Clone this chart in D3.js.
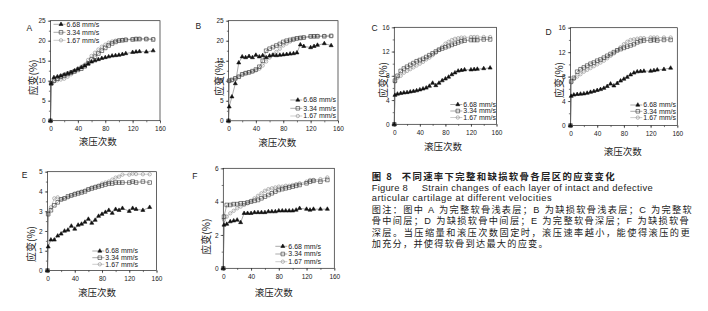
<!DOCTYPE html>
<html>
<head>
<meta charset="utf-8">
<script src="https://cdn.jsdelivr.net/npm/d3@7"></script>
<style>
body { margin: 0; background: #fff; }
svg text { font-family: "Liberation Sans", Arial, sans-serif; fill: #222; }
svg .cn { font-family: "Noto Sans CJK SC", sans-serif; }
svg .mix { font-family: "Liberation Sans", "Noto Sans CJK SC", sans-serif; }
</style>
</head>
<body>
<div id="chart"></div>
<script>
// Data (strain %)
const cycles = [0, 1, 5, 10, 15, 20, 25, 30, 35, 40, 45, 50, 55, 60, 65, 70, 75, 80, 85, 90, 95, 100, 105, 110, 120, 125, 130, 140, 150];
const speeds = ["6.68 mm/s", "3.34 mm/s", "1.67 mm/s"];
const xTicks = [0, 40, 80, 120, 160];

const strainA668 = [0, 9.3, 10.8, 11.0, 11.2, 11.5, 11.8, 12.1, 12.5, 12.9, 13.3, 13.7, 14.2, 14.7, 15.0, 15.3, 15.6, 15.8, 16.0, 16.2, 16.3, 16.4, 16.6, 16.8, 17.1, 17.2, 17.3, 17.2, 17.5];
const strainA334 = [0, 9.3, 10.0, 10.5, 11.0, 11.3, 11.7, 12.0, 12.3, 12.7, 13.0, 13.6, 14.3, 15.3, 16.0, 16.8, 17.5, 18.2, 18.8, 19.3, 19.7, 20.0, 20.1, 20.2, 20.3, 20.4, 20.4, 20.4, 20.3];
const strainA167 = [0, 9.3, 9.8, 10.1, 10.3, 10.5, 11.0, 11.6, 12.3, 13.0, 13.5, 14.0, 15.2, 16.2, 17.0, 17.8, 18.5, 19.0, 19.5, 19.8, 20.0, 20.1, 20.2, 20.3, 20.4, 20.5, 20.5, 20.5, 20.4];

const strainB668 = [0, 3.5, 6.0, 9.3, 14.5, 16.0, 15.8, 16.1, 15.8, 16.4, 16.0, 16.3, 15.8, 16.2, 16.4, 16.3, 16.4, 16.5, 16.6, 16.7, 16.8, 17.0, 19.0, 18.6, 18.3, 18.6, 18.9, 19.3, 18.8];
const strainB334 = [0, 10.0, 10.2, 10.6, 11.0, 11.6, 11.9, 12.1, 12.4, 12.8, 13.5, 15.0, 17.5, 18.0, 18.4, 18.8, 19.2, 19.7, 20.0, 20.2, 20.4, 20.6, 20.7, 20.8, 21.1, 21.1, 21.1, 21.1, 21.2];
const strainB167 = [0, 10.0, 10.2, 10.6, 11.0, 11.6, 11.9, 12.1, 12.3, 12.6, 13.0, 13.8, 14.8, 15.8, 16.5, 17.2, 18.0, 18.8, 19.3, 19.8, 20.2, 20.5, 20.7, 20.8, 21.0, 21.1, 21.2, 21.2, 21.2];

const strainC668 = [0, 4.8, 5.0, 5.1, 5.2, 5.25, 5.35, 5.45, 5.55, 5.7, 5.85, 6.0, 6.3, 6.8, 6.4, 6.8, 7.2, 7.5, 7.8, 8.2, 8.5, 8.8, 8.9, 9.0, 9.0, 9.05, 9.1, 9.2, 9.3];
const strainC334 = [0, 7.2, 8.0, 8.8, 9.2, 9.5, 9.8, 10.1, 10.4, 10.6, 10.8, 11.1, 11.4, 11.7, 12.0, 12.3, 12.5, 12.7, 12.9, 13.1, 13.3, 13.5, 13.7, 13.8, 13.9, 13.9, 13.9, 14.0, 14.0];
const strainC167 = [0, 7.0, 7.7, 8.0, 8.5, 8.8, 9.1, 9.4, 9.7, 10.0, 10.3, 10.7, 11.0, 11.4, 11.8, 12.3, 12.8, 13.3, 13.6, 13.9, 14.1, 14.2, 14.3, 14.3, 14.4, 14.4, 14.4, 14.4, 14.4];

const strainD668 = [0, 4.8, 5.0, 5.1, 5.15, 5.2, 5.3, 5.45, 5.6, 5.75, 5.9, 6.1, 6.4, 6.8, 6.5, 6.9, 7.3, 7.6, 7.9, 8.3, 8.6, 8.8, 8.85, 8.9, 8.9, 9.0, 9.1, 9.2, 9.4];
const strainD334 = [0, 7.2, 7.8, 8.8, 9.2, 9.5, 9.8, 10.1, 10.3, 10.6, 10.8, 11.1, 11.4, 11.7, 12.0, 12.3, 12.5, 12.7, 12.9, 13.1, 13.3, 13.6, 13.8, 13.9, 13.9, 14.0, 13.9, 14.0, 14.0];
const strainD167 = [0, 7.0, 7.6, 8.0, 8.4, 8.8, 9.1, 9.4, 9.7, 10.0, 10.3, 10.6, 11.0, 11.4, 11.8, 12.3, 12.8, 13.3, 13.7, 14.0, 14.1, 14.2, 14.3, 14.3, 14.4, 14.4, 14.4, 14.4, 14.4];

const strainE668 = [0, 1.2, 1.55, 1.55, 1.75, 1.85, 2.0, 2.05, 2.25, 2.1, 2.3, 2.35, 2.45, 2.6, 2.4, 2.55, 2.75, 2.85, 2.95, 3.05, 2.9, 3.1, 3.05, 3.15, 3.0, 3.15, 3.1, 3.05, 3.2];
const strainE334 = [0, 2.85, 3.05, 3.3, 3.45, 3.6, 3.65, 3.75, 3.8, 3.85, 3.9, 3.95, 4.0, 4.1, 4.15, 4.2, 4.25, 4.3, 4.35, 4.4, 4.4, 4.45, 4.45, 4.45, 4.45, 4.5, 4.45, 4.5, 4.45];
const strainE167 = [0, 2.9, 3.2, 3.65, 3.7, 3.6, 3.65, 3.7, 3.8, 3.9, 3.95, 4.0, 4.05, 4.1, 4.2, 4.25, 4.3, 4.4, 4.45, 4.5, 4.6, 4.7, 4.75, 4.85, 4.85, 4.9, 4.88, 4.87, 4.87];

const strainF668 = [0, 2.6, 2.65, 2.8, 2.85, 2.9, 2.75, 3.3, 3.3, 3.3, 3.35, 3.35, 3.35, 3.35, 3.4, 3.4, 3.4, 3.45, 3.45, 3.45, 3.45, 3.45, 3.5, 3.6, 3.55, 3.5, 3.55, 3.55, 3.55];
const strainF334 = [0, 3.1, 3.8, 3.8, 3.85, 3.85, 3.9, 3.9, 3.95, 4.0, 4.05, 4.1, 4.2, 4.3, 4.4, 4.5, 4.6, 4.7, 4.75, 4.8, 4.85, 4.9, 4.95, 5.0, 5.1, 5.2, 5.25, 5.2, 5.3];
const strainF167 = [0, 2.9, 3.1, 3.3, 3.45, 3.6, 3.7, 3.8, 3.9, 4.05, 4.2, 4.35, 4.5, 4.65, 4.75, 4.8, 4.85, 4.9, 4.9, 4.95, 4.95, 5.0, 5.05, 5.1, 5.2, 5.3, 5.3, 5.35, 5.45];

const yTicksA = [0, 5, 10, 15, 20, 25];
const yTicksC = [0, 4, 8, 12, 16];
const yTicksE = [0, 1, 2, 3, 4, 5];
const yTicksF = [0, 2, 4, 6];

const captionLines = [
    "图 8", "不同速率下完整和缺损软骨各层区的应变变化",
    "Figure 8", "Strain changes of each layer of intact and defective",
    "articular cartilage at different velocities",
    "图注：图中 A 为完整软骨浅表层；B 为缺损软骨浅表层；C 为完整软",
    "骨中间层；D 为缺损软骨中间层；E 为完整软骨深层；F 为缺损软骨",
    "深层。当压缩量和滚压次数固定时，滚压速率越小，能使得滚压的更",
    "加充分，并使得软骨到达最大的应变。"
];

// Panel layout (pixel boxes)
const panels = [
    { letter: "A", box: [50.5, 160, 20.7, 120.7], yTicks: yTicksA, series: [strainA668, strainA334, strainA167],
      letterPos: [26.5, 31], yTitle: [33.5, 77.5], xTitle: [97.7, 145], legend: { x: 66.5, rows: [24.3, 32.3, 40.3], anchor: "start" } },
    { letter: "B", box: [228.5, 338, 20.7, 120.8], yTicks: yTicksA, series: [strainB668, strainB334, strainB167],
      letterPos: [195.5, 28.5], yTitle: [219.5, 78], xTitle: [277.3, 146], legend: { x: 336, rows: [100, 108.3, 116], anchor: "end" } },
    { letter: "C", box: [394.3, 496.5, 27.3, 124.3], yTicks: yTicksC, series: [strainC668, strainC334, strainC167],
      letterPos: [371.5, 30.5], yTitle: [383.5, 80], xTitle: [443, 150], legend: { x: 496, rows: [104.5, 111, 117.5], anchor: "end" } },
    { letter: "D", box: [570.5, 677.3, 27.7, 125.5], yTicks: yTicksC, series: [strainD668, strainD334, strainD167],
      letterPos: [545.5, 34.5], yTitle: [559.5, 80], xTitle: [622.7, 155], legend: { x: 676, rows: [105, 111.3, 117.6], anchor: "end" } },
    { letter: "E", box: [47.5, 156.5, 171.7, 270.5], yTicks: yTicksE, series: [strainE668, strainE334, strainE167],
      letterPos: [21.7, 178], yTitle: [31.7, 244], xTitle: [97, 295.5], legend: { x: 138, rows: [251, 257.7, 264.3], anchor: "end" } },
    { letter: "F", box: [223.3, 334.3, 168.3, 268.3], yTicks: yTicksF, series: [strainF668, strainF334, strainF167],
      letterPos: [192.3, 178.5], yTitle: [206.7, 236.7], xTitle: [273.7, 295.5], legend: { x: 321, rows: [246.3, 254, 261.7], anchor: "end" } }
];

// Marker styles: triangle / square / circle
const seriesStyle = [
    { symbol: d3.symbolTriangle, size: 7, fill: "#111", stroke: "#111", line: "#555" },
    { symbol: d3.symbolSquare, size: 13, fill: "none", stroke: "#333", line: "#555" },
    { symbol: d3.symbolCircle, size: 9, fill: "none", stroke: "#8c8c8c", line: "#9a9a9a" }
];

const svg = d3.select("#chart")
    .append("svg")
    .attr("width", 708)
    .attr("height", 311);

panels.forEach(p => {
    const [x0, x1, y0, y1] = p.box;
    const yMax = p.yTicks[p.yTicks.length - 1];
    const yStep = p.yTicks[1] - p.yTicks[0];

    const xScale = d3.scaleLinear().domain([0, 160]).range([x0, x1]);
    const yScale = d3.scaleLinear().domain([0, yMax]).range([y1, y0]);

    const g = svg.append("g");

    // Frame
    g.append("rect")
        .attr("x", x0).attr("y", y0)
        .attr("width", x1 - x0).attr("height", y1 - y0)
        .attr("fill", "none")
        .attr("stroke", "#222")
        .attr("stroke-width", 0.7);

    // Minor ticks
    g.append("g")
        .attr("transform", `translate(${x0},0)`)
        .call(d3.axisLeft(yScale).tickValues(d3.range(0, yMax + 0.001, yStep / 2)).tickSize(1.6).tickFormat(""))
        .call(a => a.select(".domain").remove());
    g.append("g")
        .attr("transform", `translate(0,${y1})`)
        .call(d3.axisBottom(xScale).tickValues(d3.range(0, 161, 20)).tickSize(1.6).tickFormat(""))
        .call(a => a.select(".domain").remove());

    // Major ticks and labels
    const yAxis = g.append("g")
        .attr("transform", `translate(${x0},0)`)
        .call(d3.axisLeft(yScale).tickValues(p.yTicks).tickFormat(d3.format("d")).tickSize(2.6).tickPadding(2.2));
    const xAxis = g.append("g")
        .attr("transform", `translate(0,${y1})`)
        .call(d3.axisBottom(xScale).tickValues(xTicks).tickFormat(d3.format("d")).tickSize(2.6).tickPadding(3.2));
    [yAxis, xAxis].forEach(a => {
        a.select(".domain").remove();
        a.selectAll("text").attr("font-size", 6.5).attr("font-family", "Liberation Sans, Arial, sans-serif").attr("fill", "#333");
    });
    g.selectAll(".tick line").attr("stroke", "#222").attr("stroke-width", 0.6);

    // Lines and markers (circles first, triangles on top)
    [2, 1, 0].forEach(i => {
        const st = seriesStyle[i];
        const values = p.series[i];
        const pts = cycles.map((c, k) => ({ x: c, y: values[k] }));

        const line = d3.line()
            .x(d => xScale(d.x))
            .y(d => yScale(d.y));

        g.append("path")
            .datum(pts)
            .attr("d", line)
            .attr("fill", "none")
            .attr("stroke", st.line)
            .attr("stroke-width", 0.5);

        g.selectAll(null)
            .data(pts)
            .enter()
            .append("path")
            .attr("d", d3.symbol().type(st.symbol).size(st.size))
            .attr("transform", d => `translate(${xScale(d.x)},${yScale(d.y)})`)
            .attr("fill", st.fill)
            .attr("stroke", st.stroke)
            .attr("stroke-width", 0.6);
    });

    // Legend
    speeds.forEach((name, i) => {
        const st = seriesStyle[i];
        const ly = p.legend.rows[i];
        const t = g.append("text")
            .attr("x", p.legend.x)
            .attr("y", ly + 2.4)
            .attr("text-anchor", p.legend.anchor)
            .attr("font-size", 7)
            .attr("fill", "#222")
            .text(name);
        const w = t.node().getComputedTextLength();
        const tx = p.legend.anchor === "start" ? p.legend.x : p.legend.x - w;
        g.append("line")
            .attr("x1", tx - 13).attr("x2", tx - 1)
            .attr("y1", ly).attr("y2", ly)
            .attr("stroke", st.line)
            .attr("stroke-width", 0.5);
        g.append("path")
            .attr("d", d3.symbol().type(st.symbol).size(st.size))
            .attr("transform", `translate(${tx - 5.5},${ly})`)
            .attr("fill", st.fill)
            .attr("stroke", st.stroke)
            .attr("stroke-width", 0.6);
    });

    // Panel letter
    g.append("text")
        .attr("x", p.letterPos[0])
        .attr("y", p.letterPos[1])
        .attr("font-size", 8.5)
        .attr("fill", "#111")
        .text(p.letter);

    // Axis titles
    g.append("text")
        .attr("class", "cn")
        .attr("transform", `translate(${p.yTitle[0]},${p.yTitle[1]}) rotate(-90)`)
        .attr("text-anchor", "middle")
        .attr("dy", "0.35em")
        .attr("font-size", 10)
        .attr("fill", "#333")
        .text("应变(%)");
    g.append("text")
        .attr("class", "cn")
        .attr("x", p.xTitle[0])
        .attr("y", p.xTitle[1])
        .attr("text-anchor", "middle")
        .attr("font-size", 9.5)
        .attr("fill", "#333")
        .text("滚压次数");
});

// Caption
const cap = svg.append("g");
const capSpec = [
    { t: 0, x: 371.7, y: 179.5, len: 20, size: 9.4, bold: true, cls: "cn" },
    { t: 1, x: 401.7, y: 179.5, len: 213, size: 9.4, bold: true, cls: "cn" },
    { t: 2, x: 371.7, y: 191, len: 36, size: 9.4, cls: null },
    { t: 3, x: 421.7, y: 191, len: 231, size: 9.4, cls: null },
    { t: 4, x: 371.7, y: 201.3, len: 180, size: 9.4, cls: null },
    { t: 5, x: 371.7, y: 213.3, len: 320, size: 9.2, cls: "mix" },
    { t: 6, x: 371.7, y: 224.4, len: 317, size: 9.2, cls: "mix" },
    { t: 7, x: 371.7, y: 235.5, len: 318, size: 9.2, cls: "mix" },
    { t: 8, x: 371.7, y: 246.6, len: 176, size: 9.2, cls: "mix" }
];
capSpec.forEach(s => {
    cap.append("text")
        .attr("class", s.cls)
        .attr("x", s.x)
        .attr("y", s.y)
        .attr("font-size", s.size)
        .attr("font-weight", s.bold ? "bold" : "normal")
        .attr("fill", "#111")
        .attr("textLength", s.len)
        .attr("lengthAdjust", "spacing")
        .text(captionLines[s.t]);
});
</script>
</body>
</html>
